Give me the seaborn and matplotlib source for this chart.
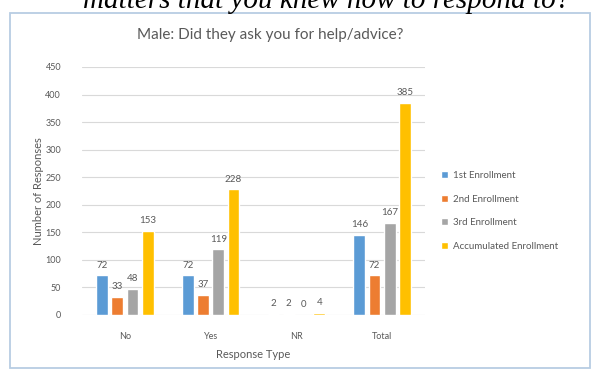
import matplotlib
matplotlib.use("Agg")
import matplotlib.pyplot as plt
from matplotlib.patches import Rectangle
import seaborn as sns
import pandas as pd

# Survey counts per response type and enrollment
categories = ["No", "Yes", "NR", "Total"]
series_names = ["1st Enrollment", "2nd Enrollment", "3rd Enrollment", "Accumulated Enrollment"]
first_enrollment = [72, 72, 2, 146]
second_enrollment = [33, 37, 2, 72]
third_enrollment = [48, 119, 0, 167]
accumulated_enrollment = [153, 228, 4, 385]
y_ticks = [0, 50, 100, 150, 200, 250, 300, 350, 400, 450]
palette = ["#5B9BD5", "#ED7D31", "#A5A5A5", "#FFC000"]

rows = []
for name, values in zip(series_names, [first_enrollment, second_enrollment,
                                       third_enrollment, accumulated_enrollment]):
    for cat, v in zip(categories, values):
        rows.append({"Response Type": cat, "Series": name, "Count": v})
df = pd.DataFrame(rows)

sns.set_theme(style="white")
plt.rcParams["font.family"] = ["Lato", "DejaVu Sans"]

W, H = 595, 373
fig = plt.figure(figsize=(W / 100, H / 100), dpi=100)
fig.patch.set_facecolor("white")

# chart frame
fig.patches.append(Rectangle((10 / W, 5 / H), 580 / W, (368 - 12.7) / H,
                             transform=fig.transFigure, facecolor="white",
                             edgecolor="#b7cde3", lw=1.3, zorder=-10))

# line of document text above the chart
fig.text(83 / W, 1 - 8 / H, "matters that you knew how to respond to?",
         family="Liberation Serif", style="italic", fontsize=21,
         color="black", ha="left", va="baseline")

ax = fig.add_axes([82 / W, (H - 315) / H, (425 - 82) / W, (315 - 67) / H])
ax.set_zorder(1)
ax.set_facecolor("none")
sns.barplot(data=df, x="Response Type", y="Count", hue="Series",
            order=categories, hue_order=series_names, palette=palette,
            width=0.71, gap=0.22, saturation=1, ax=ax, zorder=3)

for cont in ax.containers:
    ax.bar_label(cont, fmt="%d", padding=4, fontsize=7, color="#595959")

ax.set_ylim(0, 450)
ax.set_xlim(-0.5, 3.5)
ax.set_yticks(y_ticks)
ax.yaxis.grid(True, color="#d9d9d9", lw=0.8, zorder=0)
ax.set_axisbelow(True)
for s in ax.spines.values():
    s.set_visible(False)
ax.tick_params(axis="both", length=0, labelsize=6.5, labelcolor="#595959")
ax.tick_params(axis="y", pad=15)
ax.tick_params(axis="x", pad=12)
ax.set_xlabel("Response Type", fontsize=8, color="#595959")
ax.set_ylabel("Number of Responses", fontsize=8, color="#595959")
ax.xaxis.set_label_coords(0.5, -(354 - 315) / 248)
ax.xaxis.label.set_va("center")
ax.yaxis.set_label_coords((38 - 82) / 343, (315 - 191) / 248)
ax.yaxis.label.set_va("center")

# chart title, centred over the plot area
fig.text(270 / W, 1 - 35 / H, "Male: Did they ask you for help/advice?",
         fontsize=11, color="#595959", ha="center", va="center")

handles, labels = ax.get_legend_handles_labels()
ax.get_legend().remove()
fig.legend(handles, labels, loc="upper left",
           bbox_to_anchor=(441 / W, 1 - 171 / H), frameon=False,
           fontsize=7, labelcolor="#595959", handlelength=0.7,
           handleheight=0.7, handletextpad=0.5, labelspacing=1.5,
           borderaxespad=0, borderpad=0)

fig.savefig("out.png", dpi=100)
